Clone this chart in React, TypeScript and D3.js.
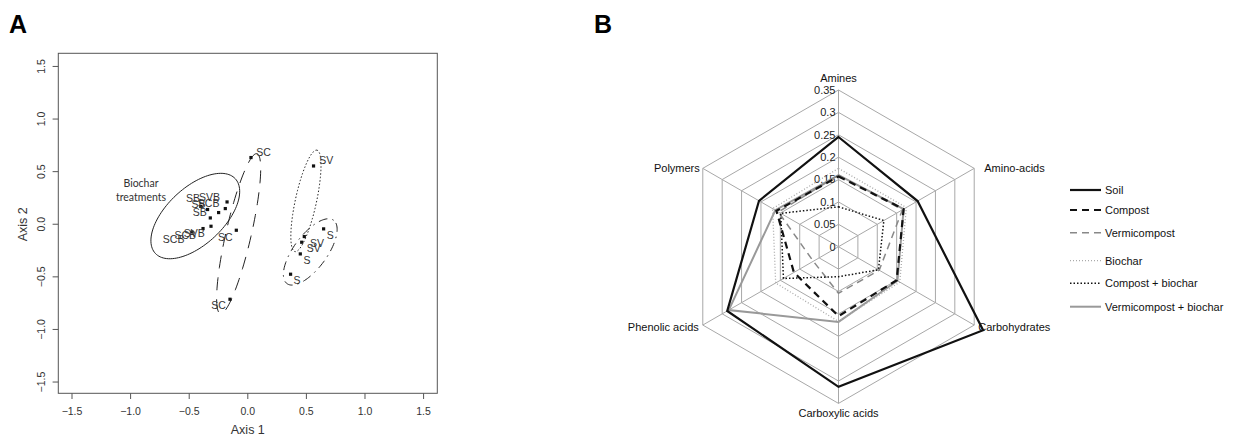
import React from "react";
import * as d3 from "d3";

// ---- panel A: ordination ----
const siteX = [0.027, 0.561, -0.177, -0.192, -0.249, -0.32, -0.314, -0.382, -0.343, -0.40, -0.098, -0.476, -0.152, 0.647, 0.482, 0.46, 0.448, 0.365];
const siteY = [0.634, 0.554, 0.212, 0.149, 0.111, 0.06, -0.019, -0.041, 0.14, 0.17, -0.057, -0.073, -0.713, -0.044, -0.117, -0.171, -0.282, -0.475];

const labelText = ["SC", "SV", "SB", "SVB", "SCB", "SB", "SB", "SCB", "SCB", "SVB", "SC", "SC", "S", "SV", "SV", "S", "S"];
const labelX = [0.135, 0.67, -0.468, -0.326, -0.334, -0.42, -0.41, -0.633, -0.533, -0.456, -0.192, -0.249, 0.704, 0.59, 0.562, 0.505, 0.419];
const labelY = [0.688, 0.608, 0.25, 0.26, 0.196, 0.187, 0.117, -0.139, -0.105, -0.082, -0.12, -0.77, -0.105, -0.177, -0.231, -0.342, -0.532];

// group ellipses: centre and two axis vectors, in axis units
const ellipseNames = ["biochar", "SC", "SV", "S"];
const ellipseC = [[-0.448, 0.078], [-0.078, -0.089], [0.496, 0.222], [0.533, -0.263]];
const ellipseU = [[0.341, 0.355], [0.156, 0.76], [0.094, 0.482], [0.199, 0.301]];
const ellipseV = [[-0.165, 0.197], [-0.105, 0.027], [-0.088, 0.0215], [-0.114, 0.094]];

const axisTicks = [-1.5, -1.0, -0.5, 0.0, 0.5, 1.0, 1.5];

// ---- panel B: radar ----
const categories = ["Amines", "Amino-acids", "Carbohydrates", "Carboxylic acids", "Phenolic acids", "Polymers"];
const seriesNames = ["Soil", "Compost", "Vermicompost", "Biochar", "Compost + biochar", "Vermicompost + biochar"];
const soil = [0.245, 0.204, 0.373, 0.313, 0.287, 0.205];
const compost = [0.157, 0.168, 0.15, 0.155, 0.115, 0.16];
const vermicompost = [0.16, 0.165, 0.105, 0.104, 0.065, 0.155];
const biochar = [0.175, 0.175, 0.158, 0.167, 0.162, 0.17];
const compostBiochar = [0.089, 0.117, 0.103, 0.067, 0.142, 0.149];
const vermiBiochar = [0.16, 0.168, 0.152, 0.168, 0.283, 0.163];
const radarTicks = [0, 0.05, 0.1, 0.15, 0.2, 0.25, 0.3, 0.35];

const seriesStyle = [
  { stroke: "#111", width: 2.2, dash: "" },
  { stroke: "#111", width: 2.2, dash: "7,5" },
  { stroke: "#888", width: 1.5, dash: "7,5" },
  { stroke: "#aaa", width: 1.3, dash: "1,2" },
  { stroke: "#111", width: 1.5, dash: "1.5,2" },
  { stroke: "#999", width: 2, dash: "" },
];

const fmt = (v: number) => (v < 0 ? "\u2212" : "") + Math.abs(v).toFixed(1);

function PanelA() {
  const x = d3.scaleLinear().domain([-1.617, 1.617]).range([58.3, 437.3]);
  const y = d3.scaleLinear().domain([-1.607, 1.625]).range([393.3, 53.3]);
  const styles = [
    { dash: "", w: 1 },
    { dash: "13,9", w: 1 },
    { dash: "1.5,2", w: 1 },
    { dash: "1.5,5,9,5", w: 1 },
  ];
  const ellipsePath = (i: number) => {
    const pts = d3.range(120).map((k) => {
      const t = (k / 120) * 2 * Math.PI;
      return [
        ellipseC[i][0] + ellipseU[i][0] * Math.cos(t) + ellipseV[i][0] * Math.sin(t),
        ellipseC[i][1] + ellipseU[i][1] * Math.cos(t) + ellipseV[i][1] * Math.sin(t),
      ];
    });
    return d3.line<number[]>().x((d) => x(d[0])).y((d) => y(d[1])).curve(d3.curveLinearClosed)(pts) || "";
  };
  const font = "'Liberation Sans', Arial, sans-serif";
  return (
    <g>
      <text x={9} y={33} fontFamily={font} fontWeight="bold" fontSize={25}>A</text>
      <rect x={58.3} y={53.3} width={379} height={340} fill="none" stroke="#555" strokeWidth={1} />
      {axisTicks.map((t) => (
        <g key={"x" + t}>
          <line x1={x(t)} x2={x(t)} y1={393.3} y2={399} stroke="#555" />
          <text x={x(t)} y={415} textAnchor="middle" fontFamily={font} fontSize={10.5} fill="#333">{fmt(t)}</text>
        </g>
      ))}
      {axisTicks.map((t) => (
        <g key={"y" + t}>
          <line x1={52.6} x2={58.3} y1={y(t)} y2={y(t)} stroke="#555" />
          <text transform={`translate(45,${y(t)}) rotate(-90)`} textAnchor="middle" fontFamily={font} fontSize={10.5} fill="#333">{fmt(t)}</text>
        </g>
      ))}
      <text x={x(0)} y={434} textAnchor="middle" fontFamily={font} fontSize={12.5} fill="#333">Axis 1</text>
      <text transform={`translate(27,${y(0)}) rotate(-90)`} textAnchor="middle" fontFamily={font} fontSize={12.5} fill="#333">Axis 2</text>
      {ellipseNames.map((n, i) => (
        <path key={n} d={ellipsePath(i)} fill="none" stroke="#222" strokeWidth={styles[i].w} strokeDasharray={styles[i].dash} />
      ))}
      {siteX.map((sx, i) => (
        <rect key={"p" + i} x={x(sx) - 1.6} y={y(siteY[i]) - 1.6} width={3.2} height={3.2} fill="#111" />
      ))}
      {labelText.map((t, i) => (
        <text key={"l" + i} x={x(labelX[i])} y={y(labelY[i])} dy="0.35em" textAnchor="middle" fontFamily={font} fontSize={10.5} fill="#333">{t}</text>
      ))}
      <text x={141} y={187} textAnchor="middle" fontFamily="Lato, sans-serif" fontSize={10.5} fill="#333">Biochar</text>
      <text x={141} y={201} textAnchor="middle" fontFamily="Lato, sans-serif" fontSize={10.5} fill="#333">treatments</text>
    </g>
  );
}

function PanelB() {
  const cx = 838.5;
  const cy = 246.7;
  const r = d3.scaleLinear().domain([0, 0.35]).range([0, 156.7]);
  const ang = (i: number) => (i * Math.PI) / 3;
  const pt = (i: number, v: number): [number, number] => [cx + r(v) * Math.sin(ang(i)), cy - r(v) * Math.cos(ang(i))];
  const poly = (vals: number[]) =>
    d3.line<number>().x((v, i) => pt(i, v)[0]).y((v, i) => pt(i, v)[1]).curve(d3.curveLinearClosed)(vals) || "";
  const allSeries = [soil, compost, vermicompost, biochar, compostBiochar, vermiBiochar];
  const drawOrder = [5, 3, 2, 4, 1, 0];
  const font = "'Liberation Sans', Arial, sans-serif";
  const labelPos = [
    { dx: 0, dy: -12, anchor: "middle" },
    { dx: 10, dy: 0, anchor: "start" },
    { dx: 4, dy: 2, anchor: "start" },
    { dx: 0, dy: 10, anchor: "middle" },
    { dx: -4, dy: 2, anchor: "end" },
    { dx: -3, dy: 0, anchor: "end" },
  ];
  const legendY = [190, 210, 232.7, 260.7, 283.3, 306.7];
  return (
    <g>
      <text x={594} y={33} fontFamily={font} fontWeight="bold" fontSize={25}>B</text>
      {radarTicks.slice(1).map((t) => (
        <path key={"ring" + t} d={poly(categories.map(() => t))} fill="none" stroke="#a8a8a8" strokeWidth={1} />
      ))}
      {categories.map((c, i) => {
        const [ex, ey] = pt(i, 0.35);
        return <line key={"sp" + c} x1={cx} y1={cy} x2={ex} y2={ey} stroke="#a8a8a8" strokeWidth={1} />;
      })}
      {radarTicks.map((t) => (
        <text key={"tk" + t} x={cx - 3} y={cy - r(t)} dy="0.35em" textAnchor="end" fontFamily={font} fontSize={11} fill="#222">{String(t)}</text>
      ))}
      {drawOrder.map((k) => (
        <path key={"s" + k} d={poly(allSeries[k])} fill="none" stroke={seriesStyle[k].stroke}
          strokeWidth={seriesStyle[k].width} strokeDasharray={seriesStyle[k].dash} strokeLinejoin="miter" />
      ))}
      {categories.map((c, i) => {
        const [ex, ey] = pt(i, 0.35);
        const p = labelPos[i];
        return (
          <text key={"cl" + c} x={ex + p.dx} y={ey + p.dy} dy="0.35em" textAnchor={p.anchor} fontFamily={font} fontSize={11} fill="#111">{c}</text>
        );
      })}
      {seriesNames.map((n, k) => (
        <g key={"lg" + n}>
          <line x1={1070} x2={1101} y1={legendY[k]} y2={legendY[k]} stroke={seriesStyle[k].stroke}
            strokeWidth={seriesStyle[k].width} strokeDasharray={seriesStyle[k].dash} />
          <text x={1105} y={legendY[k]} dy="0.35em" fontFamily={font} fontSize={11} fill="#111">{n}</text>
        </g>
      ))}
    </g>
  );
}

export default function App() {
  return (
    <svg width={1241} height={437} style={{ position: "absolute", left: 0, top: 0, background: "#fff" }}>
      <PanelA />
      <PanelB />
    </svg>
  );
}
